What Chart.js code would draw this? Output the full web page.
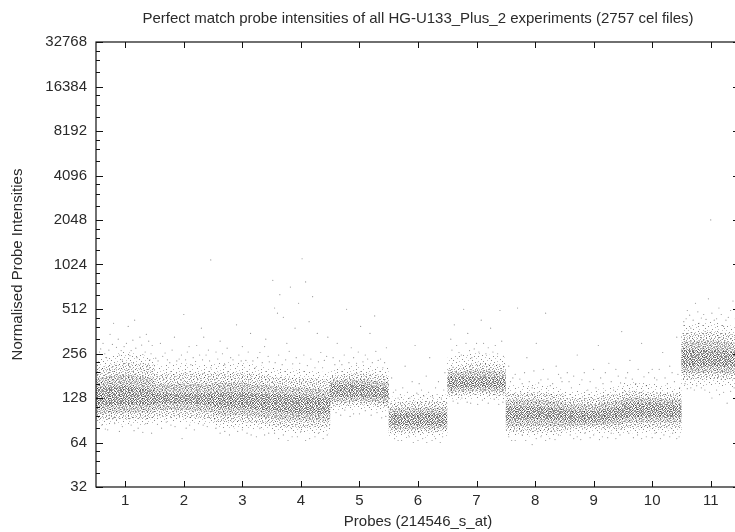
<!DOCTYPE html>
<html>
<head>
<meta charset="utf-8">
<script src="https://cdn.jsdelivr.net/npm/chart.js@4/dist/chart.umd.min.js"></script>
<style>
html, body { margin: 0; padding: 0; background: #fff; overflow: hidden; }
#wrap { width: 735px; height: 532px; overflow: hidden; }
#probeChart { filter: blur(0.4px); }
</style>
</head>
<body>
<div id="wrap"><canvas id="probeChart" width="745" height="532"></canvas></div>
<script>
const titleText = 'Perfect match probe intensities of all HG-U133_Plus_2 experiments (2757 cel files)';
const xTitle = 'Probes (214546_s_at)';
const yTitle = 'Normalised Probe Intensities';
const probeTicks = [1, 2, 3, 4, 5, 6, 7, 8, 9, 10, 11];
const yMajor = [32, 64, 128, 256, 512, 1024, 2048, 4096, 8192, 16384, 32768];
const yMinorSteps = [1.25, 1.5, 1.75];

// cloud edges, three readings per probe (left, middle, right)
const bandX = [0.5,1,1.5, 1.5,2,2.5, 2.5,3,3.5, 3.5,4,4.5, 4.5,5,5.5, 5.5,6,6.5, 6.5,7,7.5, 7.5,8,8.5, 8.5,9,9.5, 9.5,10,10.5, 10.5,11,11.5];
const fringeHigh = [235,265,240, 215,220,215, 220,225,205, 205,200,190, 200,215,205, 130,135,135, 240,260,240, 155,158,150, 142,145,155, 165,160,150, 400,420,385];
const outerHigh = [205,225,215, 185,190,188, 190,190,182, 178,175,170, 180,190,182, 118,122,122, 205,222,215, 138,140,135, 128,130,138, 145,140,138, 350,365,340];
const midHigh = [175,185,175, 158,160,158, 162,162,155, 155,150,146, 168,172,164, 108,110,110, 190,198,193, 124,125,120, 116,116,124, 130,128,125, 308,315,300];
const coreHigh = [150,155,145, 138,138,138, 140,140,135, 138,132,128, 158,158,150, 100,102,100, 178,178,176, 112,112,108, 106,104,112, 118,118,115, 270,270,262];
const coreLow = [112,115,115, 118,118,115, 110,110,105, 105,100,100, 130,130,128, 84,84,84, 150,152,150, 90,92,90, 88,88,92, 95,96,95, 205,208,205];
const midLow = [100,102,102, 106,106,103, 98,98,94, 92,90,90, 120,122,118, 79,79,80, 140,143,140, 82,83,82, 83,84,85, 87,88,87, 188,190,187];
const outerLow = [90,92,92, 96,95,92, 88,88,84, 82,80,82, 112,115,110, 74,74,76, 132,135,132, 76,75,76, 78,80,78, 80,80,80, 170,172,170];
const fringeLow = [84,85,84, 88,88,85, 80,80,78, 76,74,74, 104,108,102, 69,69,70, 124,126,124, 71,70,71, 73,74,73, 74,74,74, 155,155,150];

// loose single dots outside and inside the clouds
const probe1Dots = [[.56,262],[.62,300],[.68,240],[.74,345],[.8,410],[.85,282],[.9,250],[.95,232],[1.02,300],[1.05,390],[1.1,268],[1.16,430],[1.2,240],[1.25,330],[1.3,252],[1.36,345],[1.42,232],[1.46,290],[.6,84],[.7,78],[.82,86],[.95,82],[1.1,84],[1.22,80],[1.35,86],[1.45,74],[.58,275],[.65,255],[.72,270],[.78,295],[.88,320],[.93,268],[.98,285],[1.08,248],[1.13,315],[1.18,278],[1.28,292],[1.34,262],[1.4,310],[1.44,255],[.66,79],[.9,76],[1.15,77],[1.3,75]];
const probe2Dots = [[1.52,238],[1.6,300],[1.68,258],[1.76,222],[1.84,330],[1.92,235],[2,470],[2.06,262],[2.12,215],[2.22,290],[2.3,380],[2.34,330],[2.38,250],[2.46,205],[1.55,85],[1.7,88],[1.85,82],[1.97,68],[2.1,84],[2.25,86],[2.4,82],[1.56,228],[1.64,245],[1.72,232],[1.8,270],[1.88,228],[1.96,250],[2.03,232],[2.09,285],[2.16,240],[2.2,226],[2.27,250],[2.32,232],[2.42,270],[2.44,228],[1.62,80],[1.78,84],[2.04,80],[2.18,78],[2.33,84]];
const probe3Dots = [[2.46,1100],[2.55,262],[2.62,310],[2.7,215],[2.8,240],[2.9,400],[3,285],[3.06,230],[3.14,350],[3.22,205],[3.3,260],[3.4,320],[3.46,225],[2.55,80],[2.7,76],[2.85,82],[3,78],[3.15,72],[3.3,80],[3.45,74],[2.58,235],[2.66,255],[2.74,278],[2.84,232],[2.94,250],[2.98,228],[3.1,262],[3.18,228],[3.26,240],[3.34,222],[3.38,285],[3.44,245],[2.62,74],[2.78,72],[2.92,76],[3.08,74],[3.24,70],[3.38,72]];
const probe4Dots = [[3.52,800],[3.55,520],[3.6,480],[3.64,640],[3.7,450],[3.76,300],[3.82,720],[3.9,380],[3.96,560],[4.02,1120],[4.08,780],[4.14,420],[4.2,620],[4.28,350],[4.34,260],[4.4,230],[4.46,330],[3.55,74],[3.7,72],[3.85,70],[4,76],[4.15,68],[4.3,74],[4.45,72],[3.56,222],[3.62,250],[3.68,215],[3.74,232],[3.8,265],[3.86,218],[3.92,240],[3.98,220],[4.05,250],[4.11,212],[4.17,235],[4.24,205],[4.3,225],[4.37,205],[4.44,245],[3.62,68],[3.78,66],[3.94,70],[4.08,66],[4.24,70],[4.38,68]];
const probe5Dots = [[4.55,240],[4.62,300],[4.7,215],[4.78,510],[4.86,280],[4.95,220],[5.02,390],[5.1,250],[5.18,350],[5.26,460],[5.32,230],[5.4,205],[5.46,280],[4.6,102],[4.75,106],[4.9,100],[5.1,105],[5.3,102],[5.45,96],[4.58,215],[4.66,228],[4.74,250],[4.82,222],[4.9,240],[4.98,262],[5.06,225],[5.14,235],[5.22,222],[5.28,265],[5.36,235],[5.43,222],[4.68,98],[4.84,96],[5,100],[5.2,98],[5.38,94]];
const probe6Dots = [[5.55,175],[5.62,145],[5.7,135],[5.78,210],[5.86,128],[5.95,290],[6.02,160],[6.1,132],[6.2,240],[6.3,150],[6.4,128],[6.46,190],[5.6,68],[5.72,66],[5.85,70],[6,66],[6.15,64],[6.3,68],[6.42,70],[5.58,140],[5.66,128],[5.74,150],[5.82,140],[5.9,165],[5.98,138],[6.06,145],[6.14,180],[6.18,140],[6.25,130],[6.35,165],[6.44,145],[5.66,66],[5.92,64],[6.08,68],[6.24,66],[6.38,64]];
const probe7Dots = [[6.56,320],[6.62,400],[6.7,260],[6.78,510],[6.85,350],[6.92,240],[7,300],[7.08,430],[7.16,255],[7.24,380],[7.32,290],[7.4,500],[7.46,245],[6.6,122],[6.75,128],[6.9,118],[7.1,124],[7.3,126],[7.45,120],[6.58,270],[6.66,290],[6.74,250],[6.82,300],[6.88,268],[6.96,275],[7.04,262],[7.12,300],[7.2,280],[7.28,262],[7.36,255],[7.43,310],[6.68,118],[6.84,120],[7.02,116],[7.2,118],[7.38,116]];
const probe8Dots = [[7.55,210],[7.62,175],[7.7,520],[7.78,160],[7.86,240],[7.95,150],[8.02,300],[8.1,170],[8.18,480],[8.26,155],[8.36,210],[8.46,165],[7.55,70],[7.66,66],[7.78,72],[7.95,62],[8.1,70],[8.25,68],[8.4,72],[7.58,165],[7.66,185],[7.74,172],[7.82,190],[7.9,165],[7.98,195],[8.06,162],[8.14,200],[8.22,172],[8.3,160],[8.4,185],[8.44,175],[7.6,66],[7.84,66],[8.02,68],[8.18,66],[8.34,67]];
const probe9Dots = [[8.55,190],[8.62,150],[8.72,250],[8.8,170],[8.9,145],[9,200],[9.08,290],[9.16,160],[9.26,220],[9.34,145],[9.42,180],[9.48,360],[8.6,72],[8.72,70],[8.85,74],[9,72],[9.15,70],[9.3,74],[9.45,72],[8.58,165],[8.66,180],[8.76,158],[8.84,190],[8.94,165],[9.04,150],[9.12,175],[9.2,190],[9.3,165],[9.38,200],[9.46,162],[8.66,68],[8.78,67],[8.94,69],[9.1,67],[9.24,69],[9.38,68]];
const probe10Dots = [[9.55,175],[9.62,230],[9.72,160],[9.82,300],[9.9,155],[10,200],[10.08,170],[10.18,260],[10.26,160],[10.34,190],[10.42,330],[10.47,150],[9.6,74],[9.75,72],[9.9,70],[10.05,74],[10.2,72],[10.35,74],[10.46,70],[9.58,190],[9.66,172],[9.76,200],[9.86,178],[9.94,190],[10.04,175],[10.12,200],[10.22,175],[10.3,210],[10.38,165],[10.44,185],[9.68,69],[9.82,68],[10,69],[10.14,68],[10.3,70],[10.42,68]];
const probe11Dots = [[10.54,420],[10.6,500],[10.66,380],[10.74,560],[10.8,410],[10.88,470],[10.96,600],[11,2050],[11.06,430],[11.14,520],[11.22,390],[11.3,450],[11.38,580],[11.46,400],[10.56,160],[10.66,150],[10.76,155],[10.9,145],[11.02,128],[11.15,135],[11.28,118],[11.4,150],[10.58,440],[10.64,465],[10.7,430],[10.78,490],[10.84,445],[10.92,435],[11.02,480],[11.1,440],[11.18,470],[11.26,430],[11.34,500],[11.42,440],[10.6,148],[10.72,145],[10.84,150],[10.98,140],[11.1,145],[11.22,140],[11.34,142],[11.44,135]];

const allDots = [probe1Dots, probe2Dots, probe3Dots, probe4Dots, probe5Dots, probe6Dots, probe7Dots, probe8Dots, probe9Dots, probe10Dots, probe11Dots].flat();
const toPoints = ys => ys.map((y, i) => ({ x: bandX[i], y: y }));

// speckle tiles for the cloud fills: # dark, + light
const tileCoarse = [
    '#...+....#..+....',
    '...#...+.....#..+',
    '.+....#...#+.....',
    '....#.....+...#..',
    '#.+....#.....+...',
    '...+.#....+.#...#',
    '.#.....+#.....+..',
    '....+.....#.+....',
    '..#...#.+.....#..',
    '+.....+....#....+',
    '...#+....#...+.#.',
    '.#.....+....#....',
    '....#.+..#....+..'
];
const tileSparse = [
    '.......#...........',
    '..+...........#....',
    '...........+.......',
    '#.......+.........+',
    '.....#........#....',
    '............+......',
    '..#................',
    '.........#.....+...',
    '+...+..............',
    '..............#....',
    '.......#...+.......',
    '...#..............#',
    '..........+........',
    '.+............#....',
    '......#............',
    '............+...#..',
    '...+....#..........',
    '#..................',
    '..........#....+...',
    '.....+.............',
    '..#...........#....',
    '.........+.........',
    '................+..'
];
const tileDense = [
    '#.+.#..+#.#',
    '.#..+#.#..+',
    '+.#...+.#+.',
    '.#.+#.#..#.',
    '#..#.+..#.+',
    '.+#..#.+.#.',
    '#.#.+.#..+#',
    '..+#.#.+#..',
    '#+..#..#.+#',
    '.#.#.+#..#.',
    '+.#.#...+.#',
    '.#..+#.#.#.',
    '#.+#..#.+.#'
];

function speckle(ctx, rows, dark, light) {
    const c = document.createElement('canvas');
    c.width = rows[0].length;
    c.height = rows.length;
    const t = c.getContext('2d');
    rows.forEach((row, y) => {
        row.split('').forEach((ch, x) => {
            if (ch === '.') return;
            t.fillStyle = ch === '#' ? dark : light;
            t.fillRect(x, y, 1, 1);
        });
    });
    return ctx.createPattern(c, 'repeat');
}

function edge(ys, fill, color, order) {
    return { data: toPoints(ys), showLine: true, borderWidth: 0, pointRadius: 0, fill: fill, backgroundColor: color, order: order };
}

// gnuplot style marks pointing into the frame, on all four sides
const inwardTicks = {
    id: 'inwardTicks',
    afterDatasetsDraw(chart) {
        const ctx = chart.ctx, a = chart.chartArea;
        const xs = chart.scales.x, ys = chart.scales.y;
        ctx.save();
        ctx.strokeStyle = '#111';
        ctx.lineWidth = 1;
        ctx.beginPath();
        probeTicks.forEach(v => {
            const px = Math.round(xs.getPixelForValue(v)) + 0.5;
            ctx.moveTo(px, a.bottom); ctx.lineTo(px, a.bottom - 6);
            ctx.moveTo(px, a.top); ctx.lineTo(px, a.top + 6);
        });
        yMajor.forEach((v, i) => {
            const py = Math.round(ys.getPixelForValue(v)) + 0.5;
            ctx.moveTo(a.left, py); ctx.lineTo(a.left + 7, py);
            ctx.moveTo(a.right, py); ctx.lineTo(a.right - 7, py);
            if (i === yMajor.length - 1) return;
            yMinorSteps.forEach(s => {
                const pm = Math.round(ys.getPixelForValue(v * s)) + 0.5;
                ctx.moveTo(a.left, pm); ctx.lineTo(a.left + 4, pm);
                ctx.moveTo(a.right, pm); ctx.lineTo(a.right - 4, pm);
            });
        });
        ctx.stroke();
        ctx.lineWidth = 1.2;
        ctx.strokeRect(a.left, a.top, a.right - a.left, a.bottom - a.top);
        ctx.restore();
    }
};

const ctx = document.getElementById('probeChart').getContext('2d');
const labelFont = { family: 'Liberation Sans', size: 15, weight: 'normal', lineHeight: 1.2 };

new Chart(ctx, {
    type: 'scatter',
    data: {
        datasets: [
            edge(fringeHigh, '+1', speckle(ctx, tileSparse, 'rgba(0,0,0,0.45)', 'rgba(0,0,0,0.25)'), 5),
            edge(fringeLow, false, 'transparent', 5),
            edge(outerHigh, '+1', speckle(ctx, tileCoarse, 'rgba(0,0,0,0.4)', 'rgba(0,0,0,0.22)'), 4),
            edge(outerLow, false, 'transparent', 4),
            edge(midHigh, '+1', speckle(ctx, tileDense, 'rgba(0,0,0,0.26)', 'rgba(0,0,0,0.14)'), 3),
            edge(midLow, false, 'transparent', 3),
            edge(coreHigh, '+1', speckle(ctx, tileDense, 'rgba(0,0,0,0.3)', 'rgba(0,0,0,0.2)'), 2),
            edge(coreLow, false, 'transparent', 2),
            { data: allDots.map(d => ({ x: d[0], y: d[1] })), pointRadius: 0.6, borderWidth: 0, backgroundColor: 'rgba(0,0,0,0.42)', order: 1 }
        ]
    },
    plugins: [inwardTicks],
    options: {
        responsive: false,
        animation: false,
        events: [],
        layout: { padding: { right: 5 } },
        plugins: {
            legend: { display: false },
            tooltip: { enabled: false },
            title: {
                display: true,
                text: titleText,
                fullSize: false,
                color: '#2a2a2a',
                font: labelFont,
                padding: { top: 10, bottom: 14 }
            }
        },
        scales: {
            x: {
                type: 'linear',
                min: 0.5,
                max: 11.5,
                afterBuildTicks(s) { s.ticks = probeTicks.map(v => ({ value: v })); },
                afterFit(s) { s.height = 45; },
                grid: { display: false, drawTicks: false },
                border: { display: false },
                ticks: { color: '#2a2a2a', maxRotation: 0, padding: 5, font: labelFont },
                title: { display: true, text: xTitle, color: '#2a2a2a', padding: { top: 4, bottom: 1 }, font: labelFont }
            },
            y: {
                type: 'logarithmic',
                min: 32,
                max: 32768,
                afterBuildTicks(s) { s.ticks = yMajor.map(v => ({ value: v })); },
                afterFit(s) { s.width = 96; },
                grid: { display: false, drawTicks: false },
                border: { display: false },
                ticks: { color: '#2a2a2a', autoSkip: false, padding: 9, callback: v => String(v), font: labelFont },
                title: { display: true, text: yTitle, color: '#2a2a2a', padding: { top: 9, bottom: 0 }, font: labelFont }
            }
        }
    }
});
</script>
</body>
</html>
